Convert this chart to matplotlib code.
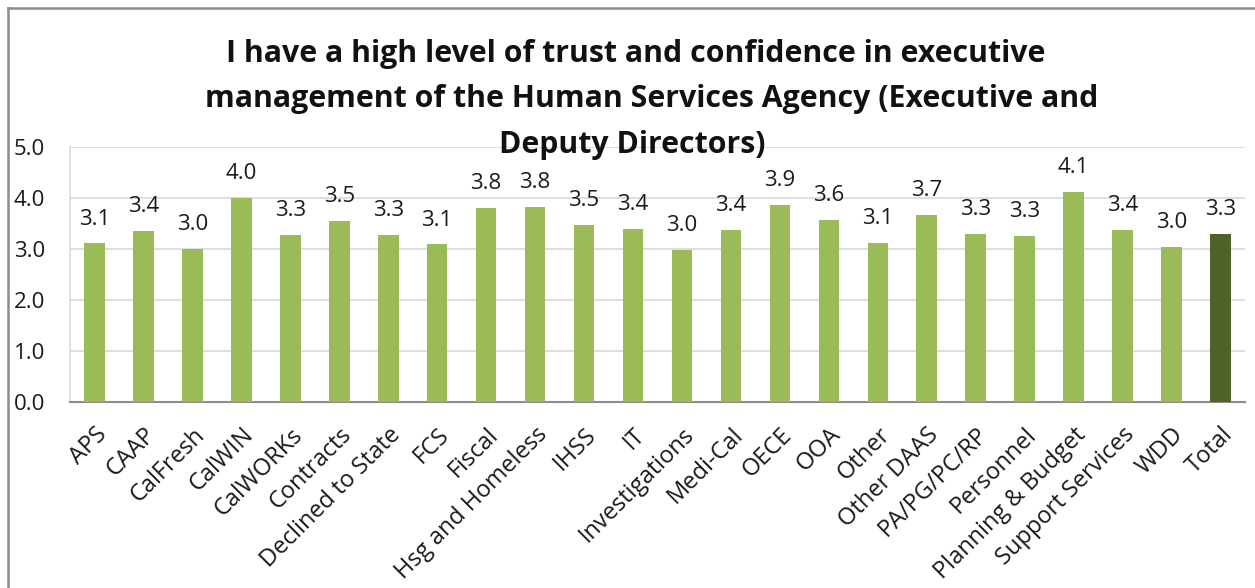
import matplotlib.pyplot as plt
from matplotlib.lines import Line2D

categories = ["APS", "CAAP", "CalFresh", "CalWIN", "CalWORKs", "Contracts",
              "Declined to State", "FCS", "Fiscal", "Hsg and Homeless", "IHSS",
              "IT", "Investigations", "Medi-Cal", "OECE", "OOA", "Other",
              "Other DAAS", "PA/PG/PC/RP", "Personnel", "Planning & Budget",
              "Support Services", "WDD", "Total"]
values = [3.11, 3.36, 3.00, 4.00, 3.27, 3.55, 3.27, 3.09, 3.80, 3.82, 3.47,
          3.39, 2.99, 3.37, 3.87, 3.57, 3.12, 3.67, 3.30, 3.26, 4.12, 3.37,
          3.04, 3.29]
value_labels = ["3.1", "3.4", "3.0", "4.0", "3.3", "3.5", "3.3", "3.1", "3.8",
                "3.8", "3.5", "3.4", "3.0", "3.4", "3.9", "3.6", "3.1", "3.7",
                "3.3", "3.3", "4.1", "3.4", "3.0", "3.3"]
title_lines = ["I have a high level of trust and confidence in executive",
               "management of the Human Services Agency (Executive and",
               "Deputy Directors)"]

plt.rcParams['font.family'] = ['Open Sans', 'DejaVu Sans']

fig = plt.figure(figsize=(12.55, 5.88), dpi=100)
ax = fig.add_axes([70 / 1255, 1 - 402 / 588, 1175 / 1255, 255 / 588])

colors = ["#9BBB59"] * (len(categories) - 1) + ["#4F6228"]
x = list(range(len(categories)))
bars = ax.bar(x, values, width=0.42, color=colors, zorder=3)

for xi, v, lab in zip(x, values, value_labels):
    ax.annotate(lab, (xi, v), xytext=(0, 13.5), textcoords="offset points",
                ha="center", va="baseline", fontsize=16, color="#1a1a1a")

ax.set_xlim(-0.5, len(categories) - 0.5)
ax.set_ylim(0, 5)
ax.set_yticks([0, 1, 2, 3, 4, 5])
ax.set_yticklabels(["0.0", "1.0", "2.0", "3.0", "4.0", "5.0"], fontsize=16, color="#1a1a1a")
ax.tick_params(axis="y", length=0, pad=18)
ax.set_xticks(x)
ax.set_xticklabels(categories, rotation=45, ha="right", va="top",
                   rotation_mode="anchor", fontsize=17, color="#1a1a1a")
ax.tick_params(axis="x", length=0, pad=15)

ax.grid(axis="y", color="#D9D9D9", linewidth=1.2, zorder=0)
ax.set_axisbelow(True)
for s in ["top", "right"]:
    ax.spines[s].set_visible(False)
ax.spines["left"].set_color("#D9D9D9")
ax.spines["left"].set_linewidth(1.2)
ax.spines["bottom"].set_color("#8C8C8C")
ax.spines["bottom"].set_linewidth(1.5)

# each title line is centred a little differently in the original
title_x = [636, 652, 632]
for i, line in enumerate(title_lines):
    fig.text(title_x[i] / 1255, 1 - (62 + 45.5 * i) / 588, line, ha="center", va="baseline",
             fontsize=21.8, fontweight="bold", color="#111111", zorder=10)

# outer frame of the chart box
fig.add_artist(Line2D([8 / 1255, 8 / 1255], [0, 1 - 8 / 588], color="#8C8C8C", linewidth=1.8))
fig.add_artist(Line2D([8 / 1255, 1], [1 - 8 / 588, 1 - 8 / 588], color="#8C8C8C", linewidth=1.8))

fig.savefig("out.png", dpi=100)
